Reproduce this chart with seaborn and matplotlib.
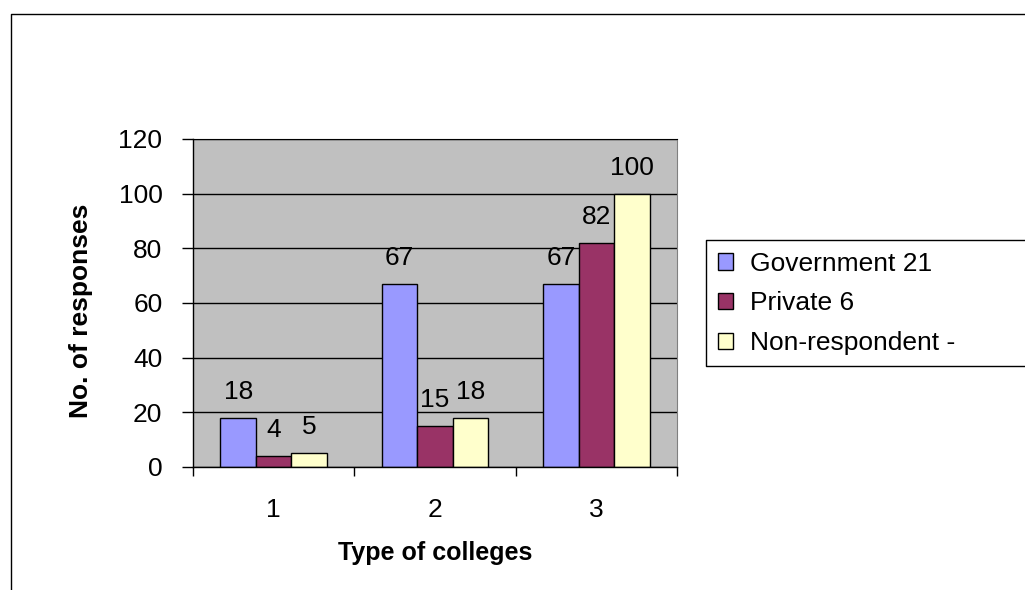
import pandas as pd
import matplotlib.pyplot as plt
import seaborn as sns
from matplotlib.lines import Line2D

# ── Data ─────────────────────────────────────────────────────
categories = ['1', '2', '3']
government = [18, 67, 67]
private = [4, 15, 82]
non_respondent = [5, 18, 100]
series_names = ['Government 21', 'Private 6', 'Non-respondent -']
y_ticks = [0, 20, 40, 60, 80, 100, 120]

COLORS = ['#9999FF', '#993366', '#FFFFCC']

df = pd.DataFrame({
    'college': categories * 3,
    'series': [series_names[0]] * 3 + [series_names[1]] * 3 + [series_names[2]] * 3,
    'value': government + private + non_respondent,
})

# ── Style ────────────────────────────────────────────────────
sns.set_style('white')
plt.rcParams['font.family'] = ['Liberation Sans', 'DejaVu Sans']
plt.rcParams['text.color'] = 'black'
plt.rcParams['axes.labelcolor'] = 'black'
plt.rcParams['xtick.color'] = 'black'
plt.rcParams['ytick.color'] = 'black'

FS = 19

fig = plt.figure(figsize=(10.25, 5.9), dpi=100)
ax = fig.add_axes([193 / 1025, 1 - 467 / 590, 484 / 1025, 328 / 590])
ax.set_facecolor('#C0C0C0')

sns.barplot(data=df, x='college', y='value', hue='series', palette=COLORS,
            width=0.66, edgecolor='black', linewidth=1, saturation=1,
            ax=ax, legend=True)

for c in ax.containers:
    ax.bar_label(c, fmt='%d', padding=10, fontsize=FS, color='black')

ax.set_ylim(0, 120)
ax.set_xlim(-0.5, 2.5)
ax.set_yticks(y_ticks)
ax.yaxis.grid(True, color='black', linewidth=1)
ax.set_axisbelow(True)
ax.tick_params(axis='y', labelsize=FS, length=8, width=1, color='black',
               direction='out', left=True, pad=14)

# category ticks between groups, labels centred
ax.set_xticks([0, 1, 2])
ax.set_xticklabels(categories)
ax.set_xticks([-0.5, 0.5, 1.5, 2.5], minor=True)
ax.tick_params(axis='x', which='major', length=0, labelsize=FS, pad=22)
ax.tick_params(axis='x', which='minor', length=6.5, width=1, color='black',
               direction='out', bottom=True)

for side in ['left', 'bottom']:
    ax.spines[side].set_color('black')
    ax.spines[side].set_linewidth(1)
ax.spines['top'].set_color('black')
ax.spines['right'].set_color('#808080')

ax.set_xlabel('Type of colleges', fontsize=18, fontweight='bold')
ax.xaxis.set_label_coords(0.5, -0.225)
ax.set_ylabel('No. of responses', fontsize=19, fontweight='bold')
ax.yaxis.set_label_coords(-0.207, 0.476)

# legend entries; its box is drawn separately so it runs off the right edge
leg = ax.legend(loc='upper left',
                bbox_to_anchor=(706 / 1025, 1 - 240 / 590),
                bbox_transform=fig.transFigure,
                fontsize=FS, frameon=False,
                handlelength=0.57, handleheight=0.57, handletextpad=0.64,
                labelspacing=0.59, borderpad=0.45, borderaxespad=0, title=None)
for h in leg.legend_handles:
    h.set_edgecolor('black')
    h.set_linewidth(1)

# open-ended boxes: legend frame and outer chart border (cut off by the image edge)
lx, ly0, ly1 = 706 / 1025, 1 - 240 / 590, 1 - 366 / 590
fig.add_artist(Line2D([1.2, lx, lx, 1.2], [ly0, ly0, ly1, ly1],
                      transform=fig.transFigure, color='black', linewidth=1))
ox, oy = 11 / 1025, 1 - 14 / 590
fig.add_artist(Line2D([ox, ox, 1.2], [-0.2, oy, oy],
                      transform=fig.transFigure, color='black', linewidth=1))

plt.savefig('out.png', dpi=100)
plt.close()
